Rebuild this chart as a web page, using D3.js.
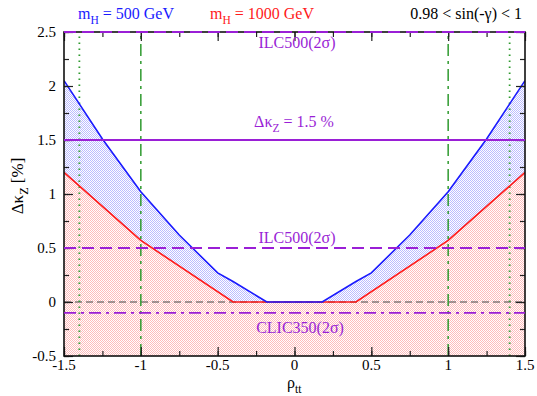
<!DOCTYPE html>
<html>
<head>
<meta charset="utf-8">
<script src="https://cdn.jsdelivr.net/npm/d3@7"></script>
<style>
  body { margin: 0; background: #fff; }
  svg text { font-family: 'Liberation Serif', 'DejaVu Serif', 'Nimbus Roman', 'FreeSerif', 'Times New Roman', Times, serif; }
</style>
</head>
<body>
<svg id="chart" width="537" height="396"></svg>
<script>
// data
var xBlue = [-1.5, -1.25, -1, -0.75, -0.5, -0.4, -0.18, 0.18, 0.4, 0.5, 0.75, 1, 1.25, 1.5];
var yBlue = [2.05, 1.51, 1.02, 0.62, 0.27, 0.19, 0, 0, 0.19, 0.27, 0.62, 1.02, 1.51, 2.05];
var xRed = [-1.5, -1, -0.4, 0.4, 1, 1.5];
var yRed = [1.2, 0.57, 0, 0, 0.57, 1.2];
var hLines = [
  {y: 1.5, kind: 'solid'},
  {y: 0.5, kind: 'dash'},
  {y: -0.1, kind: 'dashdot'}
];
var vLines = [
  {x: -1.4, kind: 'dot'}, {x: 1.4, kind: 'dot'},
  {x: -1, kind: 'dashdot'}, {x: 1, kind: 'dashdot'}
];
var xTicks = [-1.5, -1, -0.5, 0, 0.5, 1, 1.5];
var yTicks = [-0.5, 0, 0.5, 1, 1.5, 2, 2.5];

var svg = d3.select('#chart');
var margin = {left: 64, right: 12, top: 32, bottom: 40};
var W = 537, H = 396;
var x = d3.scaleLinear().domain([-1.5, 1.5]).range([margin.left, W - margin.right]);
var y = d3.scaleLinear().domain([-0.5, 2.5]).range([H - margin.bottom, margin.top]);

var purple = '#9a1fd6';
var green = '#2f9a2f';

var defs = svg.append('defs');
function checker(id, col) {
  var p = defs.append('pattern').attr('id', id).attr('width', 2).attr('height', 2)
    .attr('patternUnits', 'userSpaceOnUse');
  p.append('rect').attr('width', 2).attr('height', 2).attr('fill', '#fff');
  p.append('rect').attr('width', 1).attr('height', 1).attr('fill', col);
  p.append('rect').attr('x', 1).attr('y', 1).attr('width', 1).attr('height', 1).attr('fill', col);
}
checker('pinkfill', '#ffbcbc');
checker('bluefill', '#bcbcff');

var blue = xBlue.map(function(d, i) { return [d, yBlue[i]]; });
var red = xRed.map(function(d, i) { return [d, yRed[i]]; });
var redAt = d3.scaleLinear().domain(xRed).range(yRed);
var blueAt = d3.scaleLinear().domain(xBlue).range(yBlue);

var clip = defs.append('clipPath').attr('id', 'plotclip');
clip.append('rect').attr('x', x(-1.5)).attr('y', y(2.5))
  .attr('width', x(1.5) - x(-1.5)).attr('height', y(-0.5) - y(2.5));

var g = svg.append('g').attr('clip-path', 'url(#plotclip)');

// blue band between red and blue curves
var bandX = d3.sort(xBlue.concat(xRed).filter(function(v, i, a) { return a.indexOf(v) === i; }));
var area = d3.area().x(function(d) { return x(d); })
  .y0(function(d) { return y(redAt(d)); })
  .y1(function(d) { return y(blueAt(d)); });
g.append('path').datum(bandX).attr('d', area).attr('fill', 'url(#bluefill)');

var redArea = d3.area().x(function(d) { return x(d[0]); })
  .y0(y(-0.5)).y1(function(d) { return y(d[1]); });
g.append('path').datum(red).attr('d', redArea).attr('fill', 'url(#pinkfill)');

// reference lines
var dashes = {solid: null, dash: '12,6', dashdot: '12,5,3,5', dot: '1.5,4.5'};
g.append('line').attr('x1', x(-1.5)).attr('x2', x(1.5)).attr('y1', y(0)).attr('y2', y(0))
  .attr('stroke', '#444').attr('stroke-width', 1.2).attr('stroke-dasharray', '7,4');

g.selectAll('.vline').data(vLines).enter().append('line')
  .attr('x1', function(d) { return x(d.x); }).attr('x2', function(d) { return x(d.x); })
  .attr('y1', y(-0.5)).attr('y2', y(2.5))
  .attr('stroke', green)
  .attr('stroke-width', function(d) { return d.kind === 'dot' ? 1.8 : 1.5; })
  .attr('stroke-dasharray', function(d) { return dashes[d.kind]; });

var lineGen = d3.line().x(function(d) { return x(d[0]); }).y(function(d) { return y(d[1]); });
g.append('path').datum(red).attr('d', lineGen).attr('fill', 'none').attr('stroke', '#ff1a1a').attr('stroke-width', 1.6);
g.append('path').datum(blue).attr('d', lineGen).attr('fill', 'none').attr('stroke', '#1a1aff').attr('stroke-width', 1.6);

// frame and ticks
var frame = svg.append('g');
function addAxis(axis, tx, ty) {
  frame.append('g').attr('transform', 'translate(' + tx + ',' + ty + ')').call(axis)
    .call(function(s) { s.select('.domain').remove(); });
}
var minorX = d3.range(-1.5, 1.51, 0.25);
var minorY = d3.range(-0.5, 2.51, 0.25);
addAxis(d3.axisTop(x).tickValues(minorX).tickSize(5).tickFormat(''), 0, y(-0.5));
addAxis(d3.axisTop(x).tickValues(xTicks).tickSize(9).tickFormat(''), 0, y(-0.5));
addAxis(d3.axisBottom(x).tickValues(minorX).tickSize(5).tickFormat(''), 0, y(2.5));
addAxis(d3.axisBottom(x).tickValues(xTicks).tickSize(9).tickFormat(''), 0, y(2.5));
addAxis(d3.axisRight(y).tickValues(minorY).tickSize(5).tickFormat(''), x(-1.5), 0);
addAxis(d3.axisRight(y).tickValues(yTicks).tickSize(9).tickFormat(''), x(-1.5), 0);
addAxis(d3.axisLeft(y).tickValues(minorY).tickSize(5).tickFormat(''), x(1.5), 0);
addAxis(d3.axisLeft(y).tickValues(yTicks).tickSize(9).tickFormat(''), x(1.5), 0);
frame.selectAll('.tick line').attr('stroke', '#222').attr('stroke-width', 1.2);

// horizontal purple lines
svg.selectAll('.hline').data(hLines).enter().append('line')
  .attr('x1', x(-1.5)).attr('x2', x(1.5))
  .attr('y1', function(d) { return y(d.y); }).attr('y2', function(d) { return y(d.y); })
  .attr('stroke', purple).attr('stroke-width', 1.8)
  .attr('stroke-dasharray', function(d) { return dashes[d.kind]; });

frame.append('rect').attr('x', x(-1.5)).attr('y', y(2.5))
  .attr('width', x(1.5) - x(-1.5)).attr('height', y(-0.5) - y(2.5))
  .attr('fill', 'none').attr('stroke', '#111').attr('stroke-width', 1.6);
// ILC500 upper bound sits on the top frame
svg.append('line').attr('x1', x(-1.5)).attr('x2', x(1.5)).attr('y1', y(2.5)).attr('y2', y(2.5))
  .attr('stroke', purple).attr('stroke-width', 2).attr('stroke-dasharray', dashes.dash);

// tick labels
svg.selectAll('.xl').data(xTicks).enter().append('text')
  .attr('x', function(d) { return x(d); }).attr('y', 370)
  .attr('text-anchor', 'middle').attr('font-size', 15)
  .text(function(d) { return d; });
svg.selectAll('.yl').data(yTicks).enter().append('text')
  .attr('x', 56).attr('y', function(d) { return y(d) + 5; })
  .attr('text-anchor', 'end').attr('font-size', 15)
  .text(function(d) { return d; });

function sub(sel, main, s, after, size) {
  sel.append('tspan').text(main);
  sel.append('tspan').attr('dy', size * 0.3).attr('font-size', size * 0.72).text(s);
  if (after) sel.append('tspan').attr('dy', -size * 0.3).text(after);
  return sel;
}

// axis titles
sub(svg.append('text').attr('x', 287).attr('y', 388).attr('font-size', 16),
  'ρ', 'tt', '', 16);
sub(svg.append('text').attr('transform', 'translate(23,186) rotate(-90)')
  .attr('text-anchor', 'middle').attr('font-size', 17), 'Δκ', 'Z', ' [%]', 17);

// header
sub(svg.append('text').attr('x', 78).attr('y', 19).attr('font-size', 16).attr('fill', '#1a1aff'),
  'm', 'H', ' = 500 GeV', 16);
sub(svg.append('text').attr('x', 210).attr('y', 19).attr('font-size', 16).attr('fill', '#ff1a1a'),
  'm', 'H', ' = 1000 GeV', 16);
svg.append('text').attr('x', 522).attr('y', 19).attr('text-anchor', 'end').attr('font-size', 16)
  .text('0.98 < sin(-γ) < 1');

// line labels
svg.append('text').attr('x', 297).attr('y', 48).attr('text-anchor', 'middle').attr('font-size', 16)
  .attr('fill', purple).text('ILC500(2σ)');
sub(svg.append('text').attr('x', 294).attr('y', 127).attr('text-anchor', 'middle').attr('font-size', 16)
  .attr('fill', purple), 'Δκ', 'Z', ' = 1.5 %', 16);
svg.append('text').attr('x', 297).attr('y', 243).attr('text-anchor', 'middle').attr('font-size', 16)
  .attr('fill', purple).text('ILC500(2σ)');
svg.append('text').attr('x', 300).attr('y', 333).attr('text-anchor', 'middle').attr('font-size', 16)
  .attr('fill', purple).text('CLIC350(2σ)');
</script>
</body>
</html>
